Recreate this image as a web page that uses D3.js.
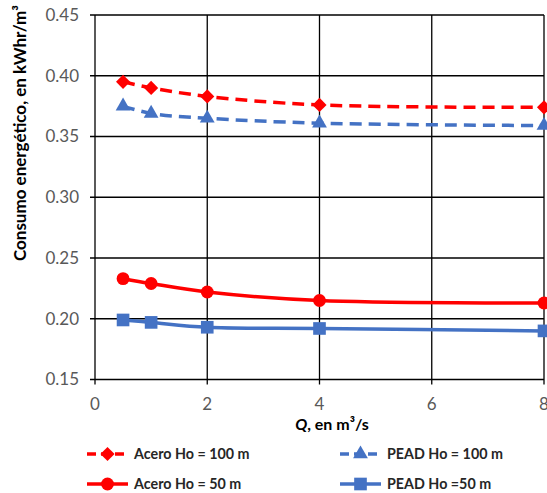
<!DOCTYPE html>
<html><head><meta charset="utf-8">
<script src="https://cdn.jsdelivr.net/npm/d3@7"></script>
<style>body{margin:0;background:#fff;} svg{display:block;font-family:Lato, "Open Sans", sans-serif;}</style>
</head><body><svg id="c" width="547" height="493"></svg>
<script>
const qValues = [0.5, 1, 2, 4, 8];
const aceroHo100 = [0.395, 0.390, 0.383, 0.376, 0.374];
const peadHo100 = [0.375, 0.369, 0.365, 0.361, 0.359];
const aceroHo50 = [0.233, 0.229, 0.222, 0.215, 0.213];
const peadHo50 = [0.199, 0.197, 0.193, 0.192, 0.190];
const xTicks = [0, 2, 4, 6, 8];
const yTicks = [0.15, 0.20, 0.25, 0.30, 0.35, 0.40, 0.45];
const seriesNames = ["Acero Ho = 100 m", "PEAD Ho = 100 m", "Acero Ho = 50 m", "PEAD Ho =50 m"];

const diamond = {draw(ctx, size){const r = Math.sqrt(size/2); ctx.moveTo(0,-r); ctx.lineTo(r,0); ctx.lineTo(0,r); ctx.lineTo(-r,0); ctx.closePath();}};

const series = [
  {name: seriesNames[0], vals: aceroHo100, color: "#ff0000", dash: "12,7", sym: diamond, size: 100},
  {name: seriesNames[1], vals: peadHo100, color: "#4472c4", dash: "12,7", sym: d3.symbolTriangle, size: 95},
  {name: seriesNames[2], vals: aceroHo50, color: "#ff0000", dash: null, sym: d3.symbolCircle, size: 130},
  {name: seriesNames[3], vals: peadHo50, color: "#4472c4", dash: null, sym: d3.symbolSquare, size: 160}
];

const svg = d3.select("#c");
const x = d3.scaleLinear().domain([0, 8]).range([95, 544]);
const y = d3.scaleLinear().domain([0.15, 0.45]).range([379.5, 15]);

const g = svg.append("g");
g.selectAll(".hg").data(yTicks).join("line")
  .attr("x1", x(0) - 5).attr("x2", x(8)).attr("y1", d => y(d)).attr("y2", d => y(d))
  .attr("stroke", "#000").attr("stroke-width", 1.3);
g.selectAll(".vg").data(xTicks).join("line")
  .attr("x1", d => x(d)).attr("x2", d => x(d)).attr("y1", y(0.45)).attr("y2", y(0.15) + 5)
  .attr("stroke", "#000").attr("stroke-width", 1.3);

g.selectAll(".yl").data(yTicks).join("text")
  .attr("x", 79).attr("y", d => y(d)).attr("dy", "0.35em").attr("text-anchor", "end")
  .attr("font-size", 17).attr("fill", "#595959").text(d => d3.format(".2f")(d));
g.selectAll(".xl").data(xTicks).join("text")
  .attr("x", d => x(d)).attr("y", 404).attr("dy", "0.35em").attr("text-anchor", "middle")
  .attr("font-size", 17).attr("fill", "#595959").text(d => d);

svg.append("text").attr("transform", `translate(20,133) rotate(-90)`)
  .attr("text-anchor", "middle").attr("dy", "0.35em").attr("font-size", 17).attr("font-weight", "bold").attr("fill", "#000")
  .text("Consumo energético, en kWhr/m³");
const xt = svg.append("text").attr("x", 332).attr("y", 424).attr("dy", "0.35em").attr("text-anchor", "middle")
  .attr("font-size", 16).attr("font-weight", "bold").attr("fill", "#000");
xt.append("tspan").attr("font-style", "italic").text("Q");
xt.append("tspan").text(", en m³/s");

const line = d3.line().x((d, i) => x(qValues[i])).y(d => y(d)).curve(d3.curveCatmullRom);
series.forEach(s => {
  g.append("path").attr("d", line(s.vals)).attr("fill", "none").attr("stroke", s.color)
    .attr("stroke-width", 3.5).attr("stroke-dasharray", s.dash);
  g.selectAll(null).data(s.vals).join("path")
    .attr("transform", (d, i) => `translate(${x(qValues[i])},${y(d)})`)
    .attr("d", d3.symbol().type(s.sym).size(s.size)).attr("fill", s.color);
});

const legPos = [[87, 454], [340, 454], [87, 484], [340, 484]];
series.forEach((s, i) => {
  const [lx, ly] = legPos[i];
  const lg = svg.append("g").attr("transform", `translate(${lx},${ly})`);
  lg.append("line").attr("x1", 0).attr("x2", 41).attr("y1", 0).attr("y2", 0)
    .attr("stroke", s.color).attr("stroke-width", 3.5).attr("stroke-dasharray", s.dash ? "9,5" : null);
  lg.append("path").attr("transform", "translate(20.5,0)")
    .attr("d", d3.symbol().type(s.sym).size(s.size)).attr("fill", s.color);
  lg.append("text").attr("x", 47).attr("y", 0).attr("dy", "0.35em")
    .attr("font-size", 14.3).attr("font-weight", "bold").attr("fill", "#262626").text(s.name);
});
</script></body></html>
